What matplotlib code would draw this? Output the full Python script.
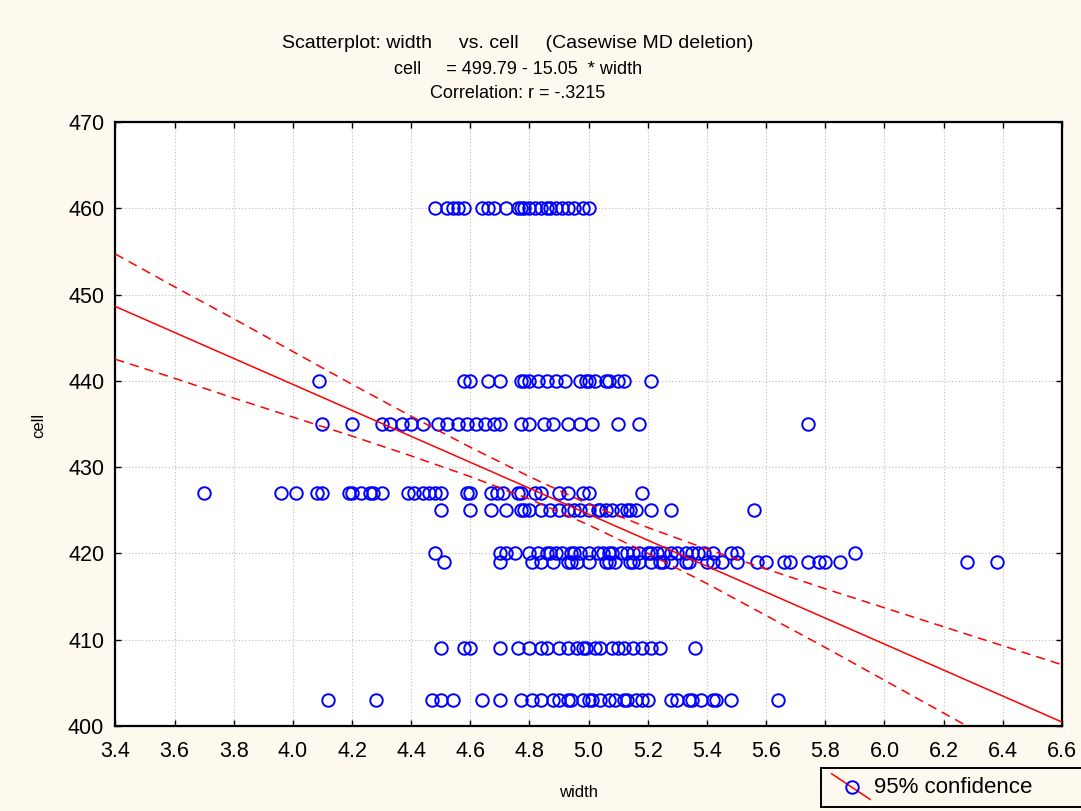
import numpy as np
import matplotlib
matplotlib.use("Agg")
import matplotlib.pyplot as plt

plt.rcParams["font.family"] = ["Liberation Sans", "DejaVu Sans"]

# observations grouped by cell value
width_460 = [4.48, 4.52, 4.54, 4.56, 4.58, 4.64, 4.66, 4.68, 4.72, 4.76, 4.77, 4.78,
             4.80, 4.82, 4.84, 4.86, 4.87, 4.89, 4.91, 4.93, 4.95, 4.98, 5.00]
width_440 = [4.09, 4.58, 4.60, 4.66, 4.70, 4.77, 4.78, 4.80, 4.83, 4.86, 4.89, 4.92,
             4.97, 4.99, 5.00, 5.02, 5.06, 5.07, 5.10, 5.12, 5.21]
width_435 = [4.10, 4.20, 4.30, 4.33, 4.37, 4.40, 4.44, 4.49, 4.52, 4.56, 4.59, 4.62,
             4.65, 4.68, 4.70, 4.77, 4.80, 4.85, 4.88, 4.93, 4.97, 5.01, 5.10, 5.17, 5.74]
width_427 = [3.70, 3.96, 4.01, 4.08, 4.10, 4.19, 4.20, 4.23, 4.26, 4.27, 4.30, 4.39,
             4.41, 4.44, 4.46, 4.48, 4.50, 4.59, 4.60, 4.67, 4.69, 4.71, 4.76, 4.77,
             4.82, 4.84, 4.90, 4.93, 4.98, 5.00, 5.18]
width_425 = [4.50, 4.60, 4.67, 4.72, 4.77, 4.78, 4.80, 4.84, 4.87, 4.90, 4.93, 4.95,
             4.97, 5.00, 5.03, 5.04, 5.06, 5.08, 5.11, 5.13, 5.14, 5.16, 5.21, 5.28, 5.56]
width_420 = [4.48, 4.70, 4.72, 4.75, 4.80, 4.83, 4.86, 4.87, 4.89, 4.91, 4.94, 4.95,
             4.97, 5.00, 5.03, 5.05, 5.07, 5.08, 5.11, 5.13, 5.15, 5.17, 5.20, 5.21,
             5.23, 5.25, 5.28, 5.30, 5.33, 5.35, 5.37, 5.39, 5.42, 5.48, 5.50, 5.90]
width_419 = [4.51, 4.70, 4.81, 4.84, 4.88, 4.93, 4.94, 4.96, 5.00, 5.06, 5.07, 5.09,
             5.14, 5.15, 5.17, 5.21, 5.24, 5.25, 5.28, 5.33, 5.34, 5.40, 5.42, 5.45,
             5.50, 5.57, 5.60, 5.66, 5.68, 5.74, 5.78, 5.80, 5.85, 6.28, 6.38]
width_409 = [4.50, 4.58, 4.60, 4.70, 4.76, 4.80, 4.84, 4.86, 4.90, 4.93, 4.96, 4.98,
             4.99, 5.02, 5.04, 5.08, 5.10, 5.12, 5.15, 5.18, 5.21, 5.24, 5.36]
width_403 = [4.12, 4.28, 4.47, 4.50, 4.54, 4.64, 4.70, 4.77, 4.81, 4.84, 4.88, 4.90,
             4.93, 4.94, 4.98, 5.00, 5.01, 5.04, 5.07, 5.09, 5.12, 5.13, 5.16, 5.18,
             5.20, 5.28, 5.30, 5.34, 5.35, 5.38, 5.42, 5.43, 5.48, 5.64]

groups = [(460, width_460), (440, width_440), (435, width_435), (427, width_427),
          (425, width_425), (420, width_420), (419, width_419), (409, width_409),
          (403, width_403)]

# fitted line cell = 499.79 - 15.05 * width
intercept = 499.79
slope = -15.05

# 95% confidence band
band_x = [3.4, 3.6, 3.8, 4.0, 4.2, 4.4, 4.6, 4.8, 5.0, 5.2, 5.4, 5.6, 5.8, 6.0, 6.2, 6.4, 6.6]
band_upper = [454.7, 450.9, 447.2, 443.4, 439.6, 435.9, 432.3, 428.9, 425.7, 423.0,
              420.5, 418.2, 415.9, 413.7, 411.5, 409.3, 407.1]
band_lower = [442.5, 440.3, 438.0, 435.8, 433.6, 431.3, 428.9, 426.3, 423.3, 420.0,
              416.5, 412.8, 409.1, 405.3, 401.5, 397.7, 393.9]

bg = "#fdf9ef"
fig = plt.figure(figsize=(10.81, 8.11), dpi=100, facecolor=bg)
ax = fig.add_axes([0.1067, 0.1048, 0.8757, 0.7448])
ax.set_facecolor("white")

x = np.concatenate([np.array(w) for _, w in groups])
y = np.concatenate([np.full(len(w), c) for c, w in groups])
ax.plot(x, y, linestyle="none", marker="o", markersize=9, markerfacecolor="none",
        markeredgecolor="#0000ff", markeredgewidth=1.4, zorder=3)

xs = np.array([3.4, 6.6])
ax.plot(xs, intercept + slope * xs, color="red", lw=1.1, zorder=4)
ax.plot(band_x, band_upper, color="red", lw=1.1, ls=(0, (6, 4)), zorder=4)
ax.plot(band_x, band_lower, color="red", lw=1.1, ls=(0, (6, 4)), zorder=4)

ax.set_xlim(3.4, 6.6)
ax.set_ylim(400, 470)
ax.set_xticks(np.arange(3.4, 6.61, 0.2))
ax.set_xticklabels([f"{v:.1f}" for v in np.arange(3.4, 6.61, 0.2)])
ax.set_yticks(np.arange(400, 471, 10))
ax.grid(True, color="#bbbbbb", ls=(0, (1, 2)), lw=0.8)
ax.set_axisbelow(True)
ax.tick_params(direction="in", length=4, width=1, top=True, right=True,
               labelsize=15.5, colors="black")
ax.tick_params(axis="x", pad=11)
ax.tick_params(axis="y", pad=8)
for s in ax.spines.values():
    s.set_linewidth(1.6)

ax.set_xlabel("width", fontsize=12)
ax.set_ylabel("cell", fontsize=12)
ax.xaxis.set_label_coords(0.489, -0.098)
ax.yaxis.set_label_coords(-0.073, 0.498)

tx = 0.479
fig.text(tx, 1 - 44 / 811, "Scatterplot: width     vs. cell     (Casewise MD deletion)",
         ha="center", va="center", fontsize=14)
fig.text(tx, 1 - 69 / 811, "cell     = 499.79 - 15.05  * width",
         ha="center", va="center", fontsize=13)
fig.text(tx, 1 - 93 / 811, "Correlation: r = -.3215",
         ha="center", va="center", fontsize=13)

# legend box
lax = fig.add_axes([821 / 1081, 1 - 806.7 / 811, 270 / 1081, 38.4 / 811])
lax.set_facecolor(bg)
lax.set_xlim(0, 270)
lax.set_ylim(38.4, 0)
lax.set_xticks([])
lax.set_yticks([])
for s in lax.spines.values():
    s.set_linewidth(1.4)
lax.plot([10.7, 49], [5.5, 31], color="red", lw=1.1)
lax.plot([30.7], [18.5], marker="o", markersize=9, markerfacecolor="none",
         markeredgecolor="#0000ff", markeredgewidth=1.4)
lax.text(53, 19, "95% confidence", ha="left", va="center", fontsize=16)

fig.savefig("out.png", dpi=100, facecolor=bg)
